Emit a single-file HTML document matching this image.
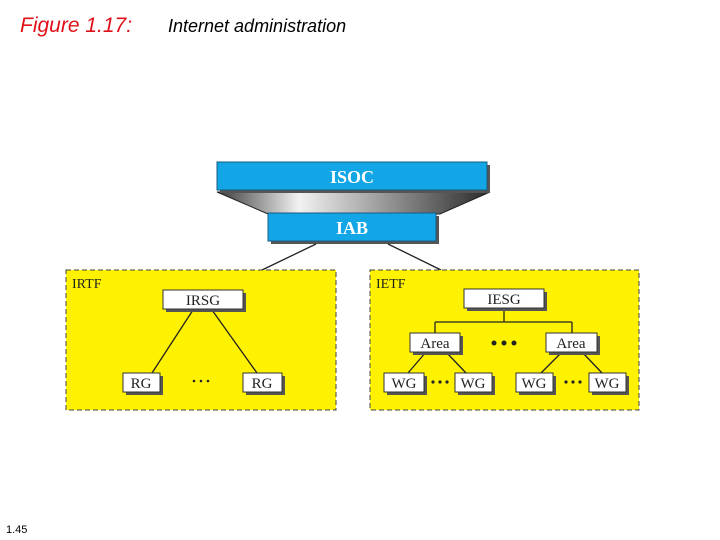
<!DOCTYPE html>
<html><head><meta charset="utf-8"><style>
html,body{margin:0;padding:0;background:#fff;width:720px;height:540px;overflow:hidden}
svg{display:block}
</style></head><body>
<svg width="720" height="540" viewBox="0 0 720 540" xmlns="http://www.w3.org/2000/svg">
<defs>
<linearGradient id="g" x1="0" x2="1" y1="0" y2="0">
<stop offset="0" stop-color="#3a3a3a"/><stop offset="0.3" stop-color="#f2f2f2"/><stop offset="1" stop-color="#2a2a2a"/>
</linearGradient>
</defs>
<text x="20" y="32" font-family="Liberation Sans, sans-serif" font-style="italic" font-size="21" fill="#e0101a">Figure 1.17:</text>
<text x="168" y="32" font-family="Liberation Sans, sans-serif" font-style="italic" font-size="18" fill="#000">Internet  administration</text>
<text x="6" y="533" font-family="Liberation Sans, sans-serif" font-size="11" fill="#000">1.45</text>

<!-- trapezoid -->
<polygon points="217,192 490,192 440,214 268,214" fill="url(#g)" stroke="#222" stroke-width="1"/>
<!-- ISOC -->
<rect x="220" y="165" width="270" height="28" fill="#555"/>
<rect x="217" y="162" width="270" height="28" fill="#12a6e6" stroke="#1a5c80" stroke-width="1"/>
<text x="352" y="183" text-anchor="middle" font-family="Liberation Serif, serif" font-weight="bold" font-size="18" fill="#fff">ISOC</text>
<!-- IAB -->
<rect x="271" y="216" width="168" height="28" fill="#555"/>
<rect x="268" y="213" width="168" height="28" fill="#12a6e6" stroke="#1a5c80" stroke-width="1"/>
<text x="352" y="234" text-anchor="middle" font-family="Liberation Serif, serif" font-weight="bold" font-size="18" fill="#fff">IAB</text>
<line x1="316" y1="244" x2="262" y2="270" stroke="#222" stroke-width="1.3"/>
<line x1="388" y1="244" x2="441" y2="270" stroke="#222" stroke-width="1.3"/>

<!-- IRTF -->
<rect x="66" y="270" width="270" height="140" fill="#fff200" stroke="#444" stroke-dasharray="5,3" stroke-width="1"/>
<text x="72" y="288" font-family="Liberation Serif, serif" font-size="14" fill="#222">IRTF</text>
<!-- IETF -->
<rect x="370" y="270" width="269" height="140" fill="#fff200" stroke="#444" stroke-dasharray="5,3" stroke-width="1"/>
<text x="376" y="288" font-family="Liberation Serif, serif" font-size="14" fill="#222">IETF</text>

<g stroke="#222" stroke-width="1.3">
<line x1="193" y1="310" x2="152" y2="373"/>
<line x1="212" y1="310" x2="257" y2="373"/>
<line x1="504" y1="308" x2="504" y2="322"/>
<line x1="435" y1="322" x2="572" y2="322"/>
<line x1="435" y1="322" x2="435" y2="333"/>
<line x1="572" y1="322" x2="572" y2="333"/>
<line x1="426" y1="352" x2="408" y2="373"/>
<line x1="446" y1="352" x2="466" y2="373"/>
<line x1="562" y1="352" x2="541" y2="373"/>
<line x1="582" y1="352" x2="602" y2="373"/>
</g>

<g font-family="Liberation Serif, serif" font-size="15" fill="#222" text-anchor="middle">
<!-- boxes: shadow then white -->
<g fill="#555">
<rect x="166" y="293" width="80" height="19"/>
<rect x="126" y="376" width="37" height="19"/>
<rect x="246" y="376" width="39" height="19"/>
<rect x="467" y="292" width="80" height="19"/>
<rect x="413" y="336" width="50" height="19"/>
<rect x="549" y="336" width="51" height="19"/>
<rect x="387" y="376" width="40" height="19"/>
<rect x="458" y="376" width="37" height="19"/>
<rect x="519" y="376" width="37" height="19"/>
<rect x="592" y="376" width="37" height="19"/>
</g>
<g fill="#fff" stroke="#333" stroke-width="1">
<rect x="163" y="290" width="80" height="19"/>
<rect x="123" y="373" width="37" height="19"/>
<rect x="243" y="373" width="39" height="19"/>
<rect x="464" y="289" width="80" height="19"/>
<rect x="410" y="333" width="50" height="19"/>
<rect x="546" y="333" width="51" height="19"/>
<rect x="384" y="373" width="40" height="19"/>
<rect x="455" y="373" width="37" height="19"/>
<rect x="516" y="373" width="37" height="19"/>
<rect x="589" y="373" width="37" height="19"/>
</g>
<text x="203" y="305">IRSG</text>
<text x="141" y="388">RG</text>
<text x="262" y="388">RG</text>
<text x="504" y="304">IESG</text>
<text x="435" y="348">Area</text>
<text x="571" y="348">Area</text>
<text x="404" y="388">WG</text>
<text x="473" y="388">WG</text>
<text x="534" y="388">WG</text>
<text x="607" y="388">WG</text>
</g>
<g fill="#222">
<circle cx="194" cy="381" r="1.3"/><circle cx="201" cy="381" r="1.3"/><circle cx="208" cy="381" r="1.3"/>
<circle cx="494" cy="343" r="2.5"/><circle cx="504" cy="343" r="2.5"/><circle cx="514" cy="343" r="2.5"/>
<circle cx="433" cy="382" r="1.6"/><circle cx="440" cy="382" r="1.6"/><circle cx="447" cy="382" r="1.6"/>
<circle cx="566" cy="382" r="1.6"/><circle cx="573" cy="382" r="1.6"/><circle cx="580" cy="382" r="1.6"/>
</g>
</svg>
</body></html>
